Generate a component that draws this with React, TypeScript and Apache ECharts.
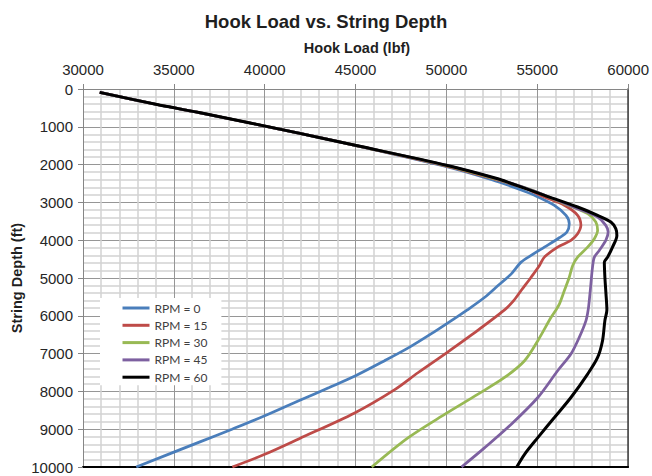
import React, { useEffect, useRef } from "react";
import * as echarts from "echarts";

// Hook load (lbf) against string depth (ft), one curve per rotary speed.
const seriesNames = ["RPM = 0", "RPM = 15", "RPM = 30", "RPM = 45", "RPM = 60"];
const seriesColors = ["#4a7ebb", "#be4b48", "#98b954", "#7d60a0", "#000000"];

const xTicks = [30000, 35000, 40000, 45000, 50000, 55000, 60000];
const yTicks = [0, 1000, 2000, 3000, 4000, 5000, 6000, 7000, 8000, 9000, 10000];

// [hook load, depth]
const rpm0: [number, number][] = [
  [30920, 90], [34200, 424], [36390, 623], [41870, 1167], [44980, 1490],
  [49800, 2030], [52500, 2400], [54000, 2650], [54850, 2812], [55940, 3077],
  [56580, 3342], [56760, 3563], [56630, 3785], [56210, 3935], [55390, 4183],
  [54660, 4403], [54110, 4580], [53570, 4890], [52840, 5200], [52110, 5509],
  [51150, 5844], [50480, 6060], [49150, 6480], [47950, 6836], [46600, 7188],
  [45000, 7586], [43550, 7896], [41870, 8249], [40000, 8647], [38200, 9000],
  [36400, 9342], [32930, 10000],
];

const rpm15: [number, number][] = [
  [30920, 90], [34200, 424], [36390, 623], [41870, 1167], [44980, 1490],
  [49900, 2025], [52700, 2390], [54300, 2620], [55400, 2857], [56490, 3077],
  [57220, 3342], [57400, 3607], [57220, 3828], [56850, 4005], [56120, 4183],
  [55390, 4448], [55120, 4668], [54660, 4979], [54110, 5332], [53700, 5600],
  [53200, 5844], [51400, 6500], [49950, 7000], [48450, 7500], [47200, 7940],
  [44950, 8570], [41900, 9250], [40000, 9664], [38220, 10000],
];

const rpm30: [number, number][] = [
  [30920, 90], [34200, 424], [36390, 623], [41870, 1167], [44980, 1490],
  [49950, 2020], [52750, 2385], [54500, 2640], [56490, 3032], [57770, 3298],
  [58220, 3520], [58320, 3740], [58140, 3960], [57770, 4183], [57220, 4448],
  [56950, 4668], [56760, 4979], [56490, 5332], [56220, 5684], [56030, 5844],
  [55760, 6040], [55030, 6658], [54300, 7188], [53200, 7631], [51740, 8072],
  [49920, 8602], [47900, 9223], [45890, 10000],
];

const rpm45: [number, number][] = [
  [30920, 90], [34200, 424], [36390, 623], [41870, 1167], [44980, 1490],
  [50000, 2018], [52800, 2380], [54700, 2680], [57220, 3165], [58320, 3387],
  [58770, 3607], [58900, 3785], [58770, 4005], [58410, 4271], [58140, 4448],
  [58040, 4713], [57950, 5154], [57880, 5509], [57800, 5844], [57680, 6127],
  [57310, 6570], [56850, 7011], [56120, 7454], [55030, 8162], [53570, 8868],
  [52110, 9488], [50830, 10000],
];

const rpm60: [number, number][] = [
  [30920, 90], [34200, 424], [36390, 623], [41870, 1167], [44980, 1490],
  [50000, 2016], [52830, 2374], [53570, 2501], [55400, 2812], [57220, 3122],
  [58320, 3342], [59050, 3520], [59320, 3695], [59380, 3873], [59140, 4183],
  [58870, 4448], [58690, 4580], [58720, 4979], [58780, 5420], [58830, 5844],
  [58720, 6127], [58590, 6658], [58320, 7101], [57770, 7541], [56850, 8162],
  [55940, 8692], [55030, 9223], [54300, 9664], [53870, 10000],
];

const seriesData = [rpm0, rpm15, rpm30, rpm45, rpm60];

const FONT = "'Liberation Sans', Arial, sans-serif";
const plain = (v: number) => String(v);

export default function App() {
  const ref = useRef<HTMLDivElement>(null);

  useEffect(() => {
    if (!ref.current) return;
    const chart = echarts.init(ref.current, undefined, { renderer: "svg" });

    const xMin = xTicks[0];
    const xMax = xTicks[xTicks.length - 1];
    const yMin = yTicks[0];
    const yMax = yTicks[yTicks.length - 1];

    chart.setOption({
      animation: false,
      backgroundColor: "#ffffff",
      title: {
        text: "Hook Load vs. String Depth",
        left: "center",
        top: 7,
        textStyle: { fontFamily: FONT, fontSize: 18.5, fontWeight: "bold", color: "#1f1f1f" },
      },
      graphic: [
        {
          type: "text",
          x: 357,
          y: 48,
          style: {
            text: "Hook Load (lbf)",
            font: `bold 14.5px ${FONT}`,
            fill: "#1f1f1f",
            align: "center",
            verticalAlign: "middle",
          },
        },
        {
          type: "text",
          x: 17,
          y: 278,
          rotation: Math.PI / 2,
          style: {
            text: "String Depth (ft)",
            font: `bold 14.5px ${FONT}`,
            fill: "#1f1f1f",
            align: "center",
            verticalAlign: "middle",
          },
        },
      ],
      legend: {
        data: seriesNames,
        orient: "vertical",
        left: 100,
        top: 298,
        backgroundColor: "#ffffff",
        padding: [4, 14, 2, 21],
        itemWidth: 27,
        itemHeight: 14,
        itemGap: 5.3,
        itemStyle: { opacity: 0 },
        lineStyle: { width: 3 },
        textStyle: { fontFamily: "Lato, 'Liberation Sans', sans-serif", fontSize: 12, color: "#404040" },
      },
      grid: { left: 83, right: 21, top: 89, bottom: 9, containLabel: false },
      xAxis: [
        {
          type: "value",
          position: "top",
          min: xMin,
          max: xMax,
          interval: 5000,
          axisLine: { show: true, lineStyle: { color: "#868686", width: 1 } },
          axisTick: { show: true, length: 5, lineStyle: { color: "#868686" } },
          axisLabel: { margin: 12, fontSize: 15, fontFamily: FONT, color: "#262626", formatter: plain },
          splitLine: { show: true, lineStyle: { color: "#969696", width: 1 } },
          minorTick: { show: false, splitNumber: 5 },
          minorSplitLine: { show: true, lineStyle: { color: "#d2d2d2", width: 1.5 } },
        },
        {
          type: "value",
          position: "bottom",
          min: xMin,
          max: xMax,
          interval: 5000,
          axisLine: { show: true, onZero: false, lineStyle: { color: "#000000", width: 2 } },
          axisTick: { show: false },
          axisLabel: { show: false },
          splitLine: { show: false },
        },
      ],
      yAxis: [
        {
          type: "value",
          inverse: true,
          min: yMin,
          max: yMax,
          interval: 1000,
          axisLine: { show: true, onZero: false, lineStyle: { color: "#868686", width: 1 } },
          axisTick: { show: true, length: 5, lineStyle: { color: "#868686" } },
          axisLabel: { margin: 10, fontSize: 15, fontFamily: FONT, color: "#262626", formatter: plain },
          splitLine: { show: true, lineStyle: { color: "#969696", width: 1 } },
          minorTick: { show: false, splitNumber: 5 },
          minorSplitLine: { show: true, lineStyle: { color: "#d2d2d2", width: 1.5 } },
        },
        {
          type: "value",
          position: "right",
          inverse: true,
          min: yMin,
          max: yMax,
          interval: 1000,
          axisLine: { show: true, onZero: false, lineStyle: { color: "#404040", width: 1.5 } },
          axisTick: { show: false },
          axisLabel: { show: false },
          splitLine: { show: false },
        },
      ],
      series: seriesData.map((d, i) => ({
        name: seriesNames[i],
        type: "line",
        xAxisIndex: 0,
        yAxisIndex: 0,
        data: d,
        smooth: 0.3,
        symbol: "none",
        showSymbol: false,
        color: seriesColors[i],
        lineStyle: { color: seriesColors[i], width: i === 4 ? 3 : 2.75 },
        z: 2 + i,
      })),
    });

    return () => chart.dispose();
  }, []);

  return (
    <div
      ref={ref}
      style={{ position: "fixed", left: 0, top: 0, width: 652, height: 476 }}
    />
  );
}
